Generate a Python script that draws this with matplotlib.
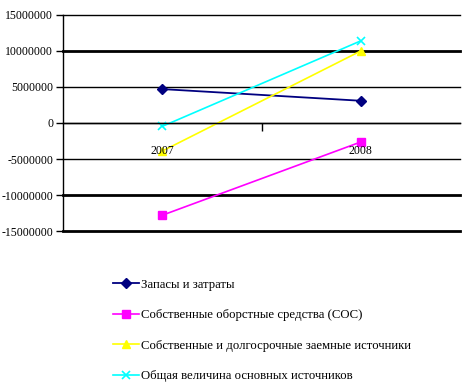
import matplotlib
matplotlib.use('Agg')
import matplotlib.pyplot as plt

plt.rcParams['font.family'] = ['Liberation Serif', 'DejaVu Serif']

years = ['2007', '2008']
zapasy = [4700000, 3080000]
sos = [-12800000, -2630000]
sdi = [-3900000, 10000000]
obsh = [-470000, 11400000]

names = ['Запасы и затраты',
         'Собственные оборстные средства (СОС)',
         'Собственные и долгосрочные заемные источники',
         'Общая величина основных источников']

fig = plt.figure(figsize=(4.63, 3.91), dpi=100)
ax = fig.add_axes([0.136, 0.409, 0.858, 0.553])

x = list(range(len(years)))
ax.plot(x, zapasy, color='#000080', lw=1.3, marker='D', ms=5, label=names[0])
ax.plot(x, sos, color='#ff00ff', lw=1.2, marker='s', ms=6, label=names[1])
ax.plot(x, sdi, color='#ffff00', lw=1.2, marker='^', ms=6, label=names[2])
ax.plot(x, obsh, color='#00ffff', lw=1.2, marker='x', ms=6, mew=1.2, label=names[3])

ax.set_xlim(-0.5, 1.5)
ax.set_ylim(-15000000, 15000000)
yt = list(range(-15000000, 15000001, 5000000))
ax.set_yticks(yt)
ax.set_yticklabels([str(v) for v in yt], fontsize=8.5)
for v in yt:
    lw = 2.0 if v in (10000000, -10000000, -15000000) else 1.0
    ax.axhline(v, color='black', lw=lw, zorder=0, clip_on=False)

ax.spines['top'].set_visible(False)
ax.spines['right'].set_visible(False)
ax.spines['left'].set_linewidth(1.0)
ax.spines['bottom'].set_position(('data', 0))
ax.spines['bottom'].set_linewidth(1.0)
ax.set_xticks([0.5])
ax.set_xticklabels([''])
ax.tick_params(axis='x', direction='out', length=6, width=1)
ax.tick_params(axis='y', direction='out', length=5, width=1, pad=2)

for i, yr in enumerate(years):
    ax.annotate(yr, (i, 0), xytext=(0, -22), textcoords='offset pixels',
                ha='center', va='top', fontsize=8.5)

fig.legend(loc='upper left', bbox_to_anchor=(0.232, 0.300), frameon=False,
           fontsize=9.2, handlelength=2.1, handletextpad=0.1, labelspacing=1.45,
           borderaxespad=0)

fig.savefig('out.png', dpi=100)
